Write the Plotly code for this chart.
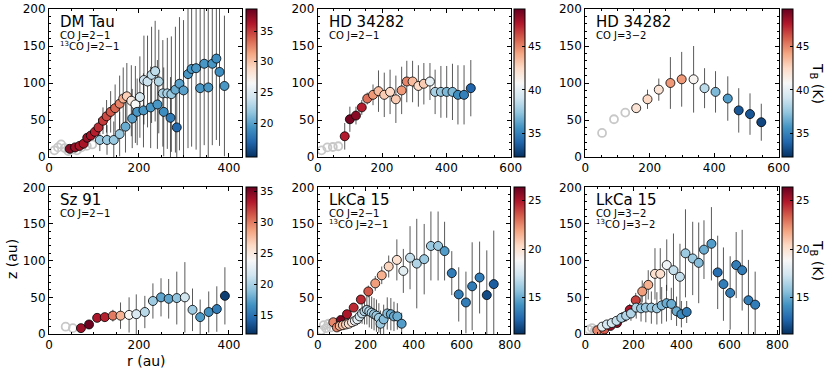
import plotly.graph_objects as go

# ── DATA ──────────────────────────────────────────────────────────────────────
# DM Tau, CO J=2-1
dmtau_co_r = [46, 58, 68, 77, 85, 93, 102, 110, 120, 128, 137, 147, 157, 165, 173, 183, 192, 202, 211, 219,
              228, 236, 244, 253, 263, 272, 281, 290, 299, 309, 317, 327, 336, 345, 354, 363, 372, 379, 390]
dmtau_co_z = [11, 13, 15, 18, 26, 29, 34, 40, 49, 55, 61, 66, 72, 79, 82, 76, 71, 81, 104, 102,
              111, 116, 102, 86, 86, 85, 91, 99, 90, 112, 119, 120, 93, 126, 94, 126, 133, 115, 96]
dmtau_co_err = [3, 3, 4, 4, 5, 6, 8, 12, 18, 22, 28, 32, 38, 42, 45, 48, 52, 55, 60, 62,
                65, 68, 70, 72, 75, 78, 85, 90, 95, 100, 105, 110, 110, 110, 110, 110, 110, 100, 95]
dmtau_co_tb = [37.5, 37, 36.5, 36.5, 37, 36.5, 36, 35.5, 35, 34.5, 34, 33.5, 32.5, 31, 29.5, 27.5, 26.5, 24.5, 24, 24,
               23.5, 23.5, 23, 22.5, 22.5, 22, 20.5, 20, 20, 19.5, 19.5, 19.5, 19.5, 19.5, 19.5, 19.5, 19, 19, 19.5]
# DM Tau, 13CO J=2-1
dmtau_13co_r = [113, 129, 144, 157, 170, 185, 196, 210, 226, 241, 255, 270, 284]
dmtau_13co_z = [23, 23, 23, 31, 41, 52, 61, 63, 67, 71, 61, 53, 40]
dmtau_13co_err = [15, 20, 25, 30, 35, 40, 45, 50, 55, 60, 60, 55, 50]
dmtau_13co_tb = [22, 22, 22, 22, 20.5, 20, 19.5, 19.5, 19.5, 19.5, 19, 18, 17]
dmtau_excl_r = [12, 20, 27, 35, 43, 52, 62, 72, 84, 96]
dmtau_excl_z = [9, 13, 17, 12, 8, 10, 9, 13, 15, 17]

# HD 34282, CO J=2-1
hd21_r = [84, 100, 119, 137, 154, 172, 189, 207, 225, 243, 261, 277, 295, 313, 330, 349, 365, 383, 401, 419, 436, 455, 476]
hd21_z = [28, 51, 56, 67, 79, 84, 89, 84, 88, 78, 90, 102, 102, 96, 99, 102, 88, 88, 88, 88, 84, 84, 93]
hd21_err = [18, 17, 12, 10, 8, 14, 28, 30, 30, 32, 32, 28, 28, 28, 28, 25, 30, 35, 35, 38, 40, 40, 38]
hd21_tb = [47.5, 49, 48.5, 47.5, 45.5, 44.5, 43.5, 43, 42.5, 43, 44.5, 45, 43.5, 42.5, 43, 40, 38, 37.5, 37, 37, 35.5, 35, 34]
hd21_excl_r = [12, 30, 47, 64]
hd21_excl_z = [9, 13, 13.5, 14.5]

# HD 34282, CO J=3-2
hd32_r = [158, 193, 228, 264, 299, 336, 370, 404, 442, 476, 511, 546]
hd32_z = [66, 78, 91, 100, 105, 105, 93, 88, 79, 63, 58, 47]
hd32_err = [6, 13, 15, 35, 37, 45, 27, 28, 30, 30, 28, 25]
hd32_tb = [42, 42.5, 42, 44.5, 44.5, 41, 38.5, 37, 36, 33.5, 33.5, 33]
hd32_excl_r = [52, 89, 124]
hd32_excl_z = [32.5, 51, 60]

# Sz 91, CO J=2-1
sz91_r = [71, 89, 107, 124, 142, 159, 178, 194, 213, 231, 249, 266, 284, 302, 319, 336, 355, 373, 391]
sz91_z = [8, 13, 22, 23, 25, 25, 26, 27, 30, 45, 50, 48, 49, 50, 33, 23, 30, 34, 52]
sz91_err = [3, 5, 5, 6, 8, 18, 24, 27, 22, 24, 26, 27, 36, 48, 29, 24, 28, 31, 39]
sz91_tb = [34, 35.5, 33.5, 33, 30, 28, 24, 22, 20.5, 19.5, 17.5, 17.5, 19, 21.5, 19.5, 17, 16.5, 15.5, 12.5]
sz91_excl_r = [37, 53]
sz91_excl_z = [10, 8]

# LkCa 15, CO J=2-1
lk21_co_r = [65, 96, 122, 150, 180, 211, 240, 267, 296, 330, 357, 385, 413, 444, 472, 502, 529, 559, 588, 618,
             644, 675, 705, 734]
lk21_co_z = [16, 19, 27, 36, 47, 58, 69, 80, 92, 101, 86, 104, 96, 102, 120, 120, 113, 83, 54, 43, 65, 77, 53, 68]
lk21_co_err = [3, 3, 4, 5, 6, 8, 10, 12, 15, 28, 30, 43, 61, 48, 47, 47, 40, 30, 37, 42, 60, 49, 61, 73]
lk21_co_tb = [22.5, 26, 25, 24.5, 24.5, 23.5, 22, 21.5, 20.5, 20, 18, 17, 16.5, 16, 16, 16, 14.5, 13.5, 13.5, 13.5,
              13.5, 13.5, 12, 12.5]
# LkCa 15, 13CO J=2-1
lk21_13co_r = [80, 92, 105, 118, 130, 143, 155, 165, 175, 185, 195, 205, 215, 225, 235, 245, 255, 262, 275, 290,
               305, 318, 332, 350]
lk21_13co_z = [9, 11, 12, 13, 14, 16, 18, 20, 24, 28, 31, 33, 31, 29, 27, 25, 22, 14, 20, 28, 27, 24, 24, 14]
lk21_13co_err = [2, 2, 3, 3, 4, 5, 6, 8, 10, 14, 18, 20, 22, 22, 22, 22, 20, 18, 20, 22, 22, 20, 18, 15]
lk21_13co_tb = [22.5, 21.5, 21, 20.5, 20, 19.5, 18.5, 18, 17.5, 17, 16.5, 16.5, 16.5, 16.5, 16, 16, 16, 16, 15.5, 15.5,
                15, 15, 15, 14.5]
lk21_excl_r = [15, 25, 35, 45, 55]
lk21_excl_z = [5, 12, 8, 14, 9]

# LkCa 15, CO J=3-2
lk32_co_r = [50, 79, 105, 132, 157, 185, 210, 237, 262, 290, 312, 339, 367, 394, 417, 447, 472, 494, 525, 551,
             575, 603, 628, 653, 679, 707]
lk32_co_z = [5, 6, 11, 15, 23, 33, 46, 58, 67, 82, 82, 94, 87, 78, 110, 103, 97, 115, 123, 84, 68, 56, 94, 87, 46, 40]
lk32_co_err = [3, 3, 4, 5, 6, 8, 10, 15, 20, 35, 35, 35, 50, 45, 60, 50, 55, 40, 50, 50, 50, 50, 45, 55, 55, 45]
lk32_co_tb = [22.5, 23.5, 25.5, 25.5, 25, 25, 24, 22, 21.5, 20, 20, 18.5, 17, 17, 16, 16, 15.5, 15, 14.5, 13,
              13.5, 13.5, 13.5, 13.5, 13.5, 13.5]
# LkCa 15, 13CO J=3-2
lk32_13co_r = [70, 90, 110, 130, 150, 170, 190, 212, 232, 252, 275, 298, 318, 338, 358, 380, 400, 422]
lk32_13co_z = [10, 13, 15, 18, 22, 25, 28, 36, 35, 36, 36, 35, 39, 42, 41, 31, 27, 30]
lk32_13co_err = [2, 3, 4, 5, 6, 8, 10, 15, 18, 20, 22, 22, 25, 25, 22, 20, 18, 15]
lk32_13co_tb = [18, 17.5, 17.5, 17, 16.5, 16.5, 16.5, 16.5, 16, 16, 16, 16, 15.5, 15, 15, 15, 14, 13.5]
lk32_excl_r = [15, 28, 40]
lk32_excl_z = [6, 8, 5]

# ── STYLE ─────────────────────────────────────────────────────────────────────
W, H = 830, 373
FONT = "DejaVu Sans"
RDBU_R = ['rgb(5,48,97)', 'rgb(33,102,172)', 'rgb(67,147,195)', 'rgb(146,197,222)', 'rgb(209,229,240)',
          'rgb(247,247,247)', 'rgb(253,219,199)', 'rgb(244,165,130)', 'rgb(214,96,77)', 'rgb(178,24,43)',
          'rgb(103,0,31)']
CSCALE = [[i / 10, c] for i, c in enumerate(RDBU_R)]


def pxx(x):
    return x / W


def pxy(y):
    return 1 - y / H


# panel boxes in pixels: (left, right, top, bottom)
ROW1 = (9, 157)
ROW2 = (187.3, 334)

panels = [
    dict(name='DM Tau', lines=['CO J=2−1', '<sup>13</sup>CO J=2−1'], box=(49, 242) + ROW1, xr=[0, 429], dx=200,
         cb=(246, 14.5, 38.6, [20, 25, 30, 35]),
         series=[(dmtau_co_r, dmtau_co_z, dmtau_co_err, dmtau_co_tb),
                 (dmtau_13co_r, dmtau_13co_z, dmtau_13co_err, dmtau_13co_tb)],
         excl=(dmtau_excl_r, dmtau_excl_z)),
    dict(name='HD 34282', lines=['CO J=2−1'], box=(317.7, 510.7) + ROW1, xr=[0, 600], dx=200,
         cb=(513.5, 32.3, 49.3, [35, 40, 45]),
         series=[(hd21_r, hd21_z, hd21_err, hd21_tb)], excl=(hd21_excl_r, hd21_excl_z)),
    dict(name='HD 34282', lines=['CO J=3−2'], box=(585.3, 778.7) + ROW1, xr=[0, 600], dx=200,
         cb=(781.5, 32.3, 49.3, [35, 40, 45]),
         series=[(hd32_r, hd32_z, hd32_err, hd32_tb)], excl=(hd32_excl_r, hd32_excl_z)),
    dict(name='Sz 91', lines=['CO J=2−1'], box=(49, 242) + ROW2, xr=[0, 429], dx=200,
         cb=(246, 11.9, 35.7, [15, 20, 25, 30, 35]),
         series=[(sz91_r, sz91_z, sz91_err, sz91_tb)], excl=(sz91_excl_r, sz91_excl_z)),
    dict(name='LkCa 15', lines=['CO J=2−1', '<sup>13</sup>CO J=2−1'], box=(317.7, 510.3) + ROW2, xr=[0, 803], dx=200,
         cb=(513.5, 11.2, 26.4, [15, 20, 25]),
         series=[(lk21_co_r, lk21_co_z, lk21_co_err, lk21_co_tb),
                 (lk21_13co_r, lk21_13co_z, lk21_13co_err, lk21_13co_tb)],
         excl=(lk21_excl_r, lk21_excl_z)),
    dict(name='LkCa 15', lines=['CO J=3−2', '<sup>13</sup>CO J=3−2'], box=(585.3, 778.7) + ROW2, xr=[0, 805], dx=200,
         cb=(781.5, 11.2, 26.4, [15, 20, 25]),
         series=[(lk32_co_r, lk32_co_z, lk32_co_err, lk32_co_tb),
                 (lk32_13co_r, lk32_13co_z, lk32_13co_err, lk32_13co_tb)],
         excl=(lk32_excl_r, lk32_excl_z)),
]

fig = go.Figure()
layout = dict(annotations=[])

for i, p in enumerate(panels, start=1):
    sfx = '' if i == 1 else str(i)
    xa, ya, ca = 'x' + sfx, 'y' + sfx, 'coloraxis' + sfx
    left, right, top, bottom = p['box']

    # error bars first so all markers sit above them
    for r, z, err, tb in p['series']:
        fig.add_trace(go.Scatter(
            x=r, y=z, mode='markers', xaxis=xa, yaxis=ya,
            marker=dict(size=1, opacity=0),
            error_y=dict(type='data', array=err, color='rgba(20,20,20,0.7)', thickness=1, width=0),
            hoverinfo='skip', showlegend=False,
        ))

    # excluded points: open grey circles
    fig.add_trace(go.Scatter(
        x=p['excl'][0], y=p['excl'][1], mode='markers', xaxis=xa, yaxis=ya,
        marker=dict(symbol='circle-open', size=8, color='#c8c8c8', line=dict(width=1.8)),
        hoverinfo='skip', showlegend=False,
    ))

    for r, z, err, tb in p['series']:
        fig.add_trace(go.Scatter(
            x=r, y=z, mode='markers', xaxis=xa, yaxis=ya,
            marker=dict(size=9, color=tb, coloraxis=ca, line=dict(color='black', width=0.8)),
            showlegend=False,
        ))

    common = dict(showline=True, linecolor='black', linewidth=1, mirror='allticks',
                  ticks='inside', ticklen=4, tickwidth=1, tickcolor='black', automargin=False,
                  showgrid=False, zeroline=False, tickfont=dict(size=12, color='black'))
    layout['xaxis' + sfx] = dict(domain=[pxx(left), pxx(right)], range=p['xr'], anchor=ya,
                                 tick0=0, dtick=p['dx'],
                                 minor=dict(dtick=50, ticks='inside', ticklen=2, tickcolor='black'),
                                 **common)
    layout['yaxis' + sfx] = dict(domain=[pxy(bottom), pxy(top)], range=[0, 200], anchor=xa,
                                 tick0=0, dtick=50,
                                 minor=dict(dtick=10, ticks='inside', ticklen=2, tickcolor='black'),
                                 **common)

    cbx, cmin, cmax, cticks = p['cb']
    layout[ca] = dict(
        cmin=cmin, cmax=cmax, colorscale=CSCALE,
        colorbar=dict(x=pxx(cbx), xanchor='left', xpad=0, ypad=0,
                      y=pxy((top + bottom) / 2), yanchor='middle',
                      len=(bottom - top) / H, lenmode='fraction', thickness=11,
                      outlinewidth=1, outlinecolor='black',
                      tickvals=cticks, ticks='inside', ticklen=3, tickcolor='black',
                      tickfont=dict(size=10.5, color='black')),
    )

    # source name and line labels
    layout['annotations'].append(dict(
        text=p['name'], xref='paper', yref='paper', x=pxx(left + 9), y=pxy(top + 12.5),
        xanchor='left', yanchor='middle', showarrow=False, font=dict(size=15, color='black'),
    ))
    for k, t in enumerate(p['lines']):
        layout['annotations'].append(dict(
            text=t, xref='paper', yref='paper', x=pxx(left + 9), y=pxy(top + 26.5 + 10.5 * k),
            xanchor='left', yanchor='middle', showarrow=False, font=dict(size=10, color='black'),
        ))

# axis labels
lab = dict(xref='paper', yref='paper', xanchor='center', yanchor='middle', showarrow=False,
           font=dict(size=14, color='black'))
layout['annotations'] += [
    dict(text='z (au)', x=pxx(12), y=pxy(259), textangle=-90, **lab),
    dict(text='r (au)', x=pxx(146), y=pxy(361), **lab),
    dict(text='T<sub>B</sub> (K)', x=pxx(817), y=pxy(83), textangle=90, **lab),
    dict(text='T<sub>B</sub> (K)', x=pxx(817), y=pxy(260), textangle=90, **lab),
]

fig.update_layout(
    template='none',
    width=W, height=H,
    margin=dict(l=0, r=0, t=0, b=0),
    plot_bgcolor='white', paper_bgcolor='white',
    font=dict(family=FONT, size=12, color='black'),
    showlegend=False,
    **layout,
)

# drop the page's default body margin so the figure sits at the window corner
fig.write_html("out.html", config={'displayModeBar': False},
               post_script="document.body.style.margin = '0';")
